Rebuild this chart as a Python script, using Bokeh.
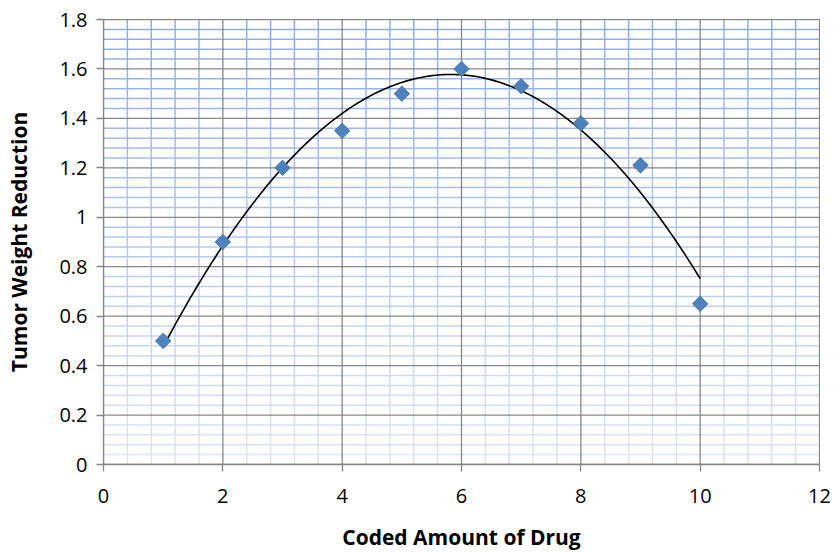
import numpy as np
from bokeh.plotting import figure
from bokeh.models import FixedTicker, Range1d
from bokeh.embed import file_html
from bokeh.resources import INLINE

# data
drug = [1, 2, 3, 4, 5, 6, 7, 8, 9, 10]
reduction = [0.5, 0.9, 1.2, 1.35, 1.5, 1.6, 1.53, 1.38, 1.21, 0.65]
x_ticks = [0, 2, 4, 6, 8, 10, 12]
y_ticks = [0, 0.2, 0.4, 0.6, 0.8, 1.0, 1.2, 1.4, 1.6, 1.8]
y_tick_labels = ["0", "0.2", "0.4", "0.6", "0.8", "1", "1.2", "1.4", "1.6", "1.8"]

XMIN, XMAX, YMIN, YMAX = 0, 12, 0, 1.8
FONT = "Open Sans"
GRAY = "#878787"

p = figure(width=835, height=552, output_backend="svg", toolbar_location=None,
           x_range=Range1d(XMIN, XMAX), y_range=Range1d(YMIN, YMAX),
           min_border_left=103, min_border_right=16, min_border_top=19, min_border_bottom=88)
p.frame_width = 716
p.frame_height = 445
p.xgrid.visible = False
p.ygrid.visible = False
p.outline_line_color = GRAY
p.outline_line_width = 1

# minor grid with vertical colour gradient (dark blue at top, pale at bottom)
top = np.array([140, 172, 228])
bot = np.array([220, 230, 246])
def col(y):
    t = (y - YMIN) / (YMAX - YMIN)
    c = bot + (top - bot) * t
    return "#%02x%02x%02x" % tuple(int(round(v)) for v in c)

ystep = 0.04
yminor = [round(YMIN + i * ystep, 4) for i in range(int(round((YMAX - YMIN) / ystep)) + 1)]
xminor = [round(XMIN + i * 0.4, 4) for i in range(int(round((XMAX - XMIN) / 0.4)) + 1)]
hy = [y for y in yminor if abs(y / 0.2 - round(y / 0.2)) > 1e-6]
p.segment(x0=[XMIN] * len(hy), x1=[XMAX] * len(hy), y0=hy, y1=hy,
          line_color=[col(y) for y in hy], line_width=1.5)
vx = [x for x in xminor if abs(x / 2 - round(x / 2)) > 1e-6]
sx0, sy0, sy1, sc = [], [], [], []
for x in vx:
    for i in range(len(yminor) - 1):
        sx0.append(x); sy0.append(yminor[i]); sy1.append(yminor[i + 1])
        sc.append(col((yminor[i] + yminor[i + 1]) / 2))
p.segment(x0=sx0, x1=sx0, y0=sy0, y1=sy1, line_color=sc, line_width=1.5)

# major grid
p.segment(x0=[XMIN] * len(y_ticks), x1=[XMAX] * len(y_ticks), y0=y_ticks, y1=y_ticks,
          line_color=GRAY, line_width=1.3)
p.segment(x0=x_ticks, x1=x_ticks, y0=[YMIN] * len(x_ticks), y1=[YMAX] * len(x_ticks),
          line_color=GRAY, line_width=1.3)

# polynomial (order 2) trendline
coef = np.polyfit(drug, reduction, 2)
xs = np.linspace(min(drug), max(drug), 200)
p.line(xs, np.polyval(coef, xs), line_color="black", line_width=1.6)

p.scatter(drug, reduction, marker="square", angle=np.pi / 4, size=11,
          fill_color="#4F81BD", line_color="#41719C", line_width=0.8)

for ax in (p.xaxis[0], p.yaxis[0]):
    ax.axis_line_color = GRAY
    ax.axis_line_width = 1.3
    ax.major_tick_line_color = GRAY
    ax.major_tick_line_width = 1.3
    ax.major_tick_out = 7
    ax.major_tick_in = 0
    ax.minor_tick_line_color = None
    ax.major_label_text_font = FONT
    ax.major_label_text_font_size = "20px"
    ax.major_label_text_color = "black"
    ax.axis_label_text_font = FONT
    ax.axis_label_text_font_size = "21px"
    ax.axis_label_text_font_style = "bold"
    ax.axis_label_text_color = "black"

p.xaxis.ticker = FixedTicker(ticks=x_ticks)
p.yaxis.ticker = FixedTicker(ticks=y_ticks)
p.yaxis.major_label_overrides = {t: l for t, l in zip(y_ticks, y_tick_labels)}
p.xaxis.major_label_standoff = 17
p.yaxis.major_label_standoff = 9
p.xaxis.axis_label = "Coded Amount of Drug"
p.yaxis.axis_label = "Tumor Weight Reduction"
p.xaxis.axis_label_standoff = 17
p.yaxis.axis_label_standoff = 23

open("out.html", "w").write(file_html(p, INLINE))
